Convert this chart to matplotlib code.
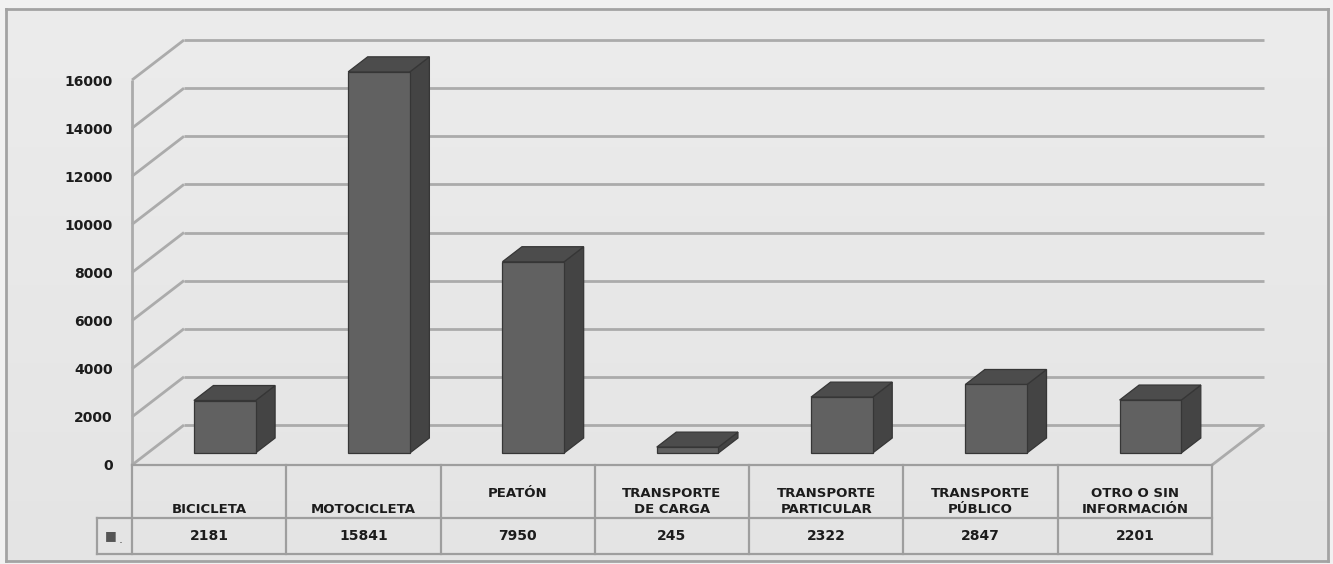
import numpy as np
import matplotlib
matplotlib.use("Agg")
import matplotlib.pyplot as plt
from matplotlib.patches import Polygon, Rectangle
from matplotlib.transforms import IdentityTransform, blended_transform_factory

# data
categorias = ["BICICLETA", "MOTOCICLETA", "PEATÓN", "TRANSPORTE\nDE CARGA",
              "TRANSPORTE\nPARTICULAR", "TRANSPORTE\nPÚBLICO", "OTRO O SIN\nINFORMACIÓN"]
etiquetas = ["\nBICICLETA", "\nMOTOCICLETA", "PEATÓN\n", "TRANSPORTE\nDE CARGA",
             "TRANSPORTE\nPARTICULAR", "TRANSPORTE\nPÚBLICO", "OTRO O SIN\nINFORMACIÓN"]
valores = [2181, 15841, 7950, 245, 2322, 2847, 2201]
y_ticks = list(range(0, 16001, 2000))

GRID = "#ababab"
TXT = "#1c1c1c"
FRONT = "#616161"
SIDE = "#444444"
TOP = "#4c4c4c"
EDGE = "#363636"

DEPTH = np.array([52.0, 40.0])  # pixels for full floor depth

fig = plt.figure(figsize=(13.33, 5.64), dpi=100)
fig.patch.set_facecolor("#f1f1f1")

# chart area background: soft vertical gradient with a gray frame
bg = fig.add_axes([6 / 1333, 3 / 564, 1322 / 1333, 552 / 564], zorder=-5)
grad = np.linspace(0.925, 0.895, 64).reshape(-1, 1)
bg.imshow(np.dstack([grad, grad, grad]), aspect="auto", extent=(0, 1, 0, 1))
bg.set_xticks([])
bg.set_yticks([])
for s in bg.spines.values():
    s.set_color("#a3a3a3")
    s.set_linewidth(2)

ax = fig.add_axes([132 / 1333, 99 / 564, 1080 / 1333, 385 / 564])
ax.set_xlim(0, len(valores))
ax.set_ylim(0, 16000)
ax.patch.set_visible(False)
for s in ax.spines.values():
    s.set_visible(False)
ax.set_xticks([])
ax.set_yticks(y_ticks)
ax.set_yticklabels([str(t) for t in y_ticks], fontsize=10, fontweight="bold", color=TXT)
ax.tick_params(axis="y", length=0, pad=14)

idt = IdentityTransform()


def p3(x, v, d):
    # data point + depth fraction -> display pixels
    px = ax.transData.transform((x, v))
    return px + d * DEPTH


def seg(a, b, **kw):
    pa, pb = np.array(a), np.array(b)
    ax.add_line(plt.Line2D([pa[0], pb[0]], [pa[1], pb[1]], transform=idt,
                           clip_on=False, **kw))


n = len(valores)
gkw = dict(color=GRID, lw=2, solid_capstyle="butt", zorder=1)

# back wall gridlines + left wall diagonals
for t in y_ticks:
    seg(p3(0, t, 0), p3(0, t, 1), **gkw)
    seg(p3(0, t, 1), p3(n, t, 1), **gkw)
seg(p3(0, 0, 0), p3(0, 16000, 0), **gkw)
# floor
seg(p3(n, 0, 0), p3(n, 0, 1), **gkw)

# bars
half = 0.2
d0, d1 = 0.3, 0.675
for i, v in enumerate(valores):
    xl, xr = i + 0.5 - half, i + 0.5 + half
    front = [p3(xl, 0, d0), p3(xr, 0, d0), p3(xr, v, d0), p3(xl, v, d0)]
    side = [p3(xr, 0, d0), p3(xr, 0, d1), p3(xr, v, d1), p3(xr, v, d0)]
    top = [p3(xl, v, d0), p3(xr, v, d0), p3(xr, v, d1), p3(xl, v, d1)]
    for pts, c in ((side, SIDE), (top, TOP), (front, FRONT)):
        ax.add_patch(Polygon(pts, closed=True, transform=idt, facecolor=c,
                             edgecolor=EDGE, lw=0.9, clip_on=False, zorder=3))

# data table under the floor
tr = blended_transform_factory(ax.transData, ax.transAxes)
h1 = -53 / 385
h2 = -89 / 385
lkey = -35 / (1080 / n)
tkw = dict(color="#9e9e9e", lw=1.6, transform=tr, clip_on=False, zorder=2)
ax.plot([0, n], [0, 0], **tkw)
ax.plot([lkey, n], [h1, h1], **tkw)
ax.plot([lkey, n], [h2, h2], **tkw)
ax.plot([lkey, lkey], [h1, h2], **tkw)
for k in range(n + 1):
    ax.plot([k, k], [0, h2], **tkw)

for i, (lab, v) in enumerate(zip(etiquetas, valores)):
    ax.text(i + 0.5, h1 + 0.005, lab, transform=tr, ha="center", va="bottom",
            fontsize=9.5, fontweight="bold", color=TXT, linespacing=1.35)
    ax.text(i + 0.5, (h1 + h2) / 2, str(v), transform=tr, ha="center", va="center",
            fontsize=10, fontweight="bold", color=TXT)

ax.text(lkey + 0.05, (h1 + h2) / 2, "■", transform=tr, ha="left", va="center",
        fontsize=9, color="#555555")
ax.text(lkey + 0.14, (h1 + h2) / 2 - 0.01, ".", transform=tr, ha="left", va="center",
        fontsize=9, color="#555555")

fig.savefig("out.png", dpi=100, facecolor=fig.get_facecolor())
